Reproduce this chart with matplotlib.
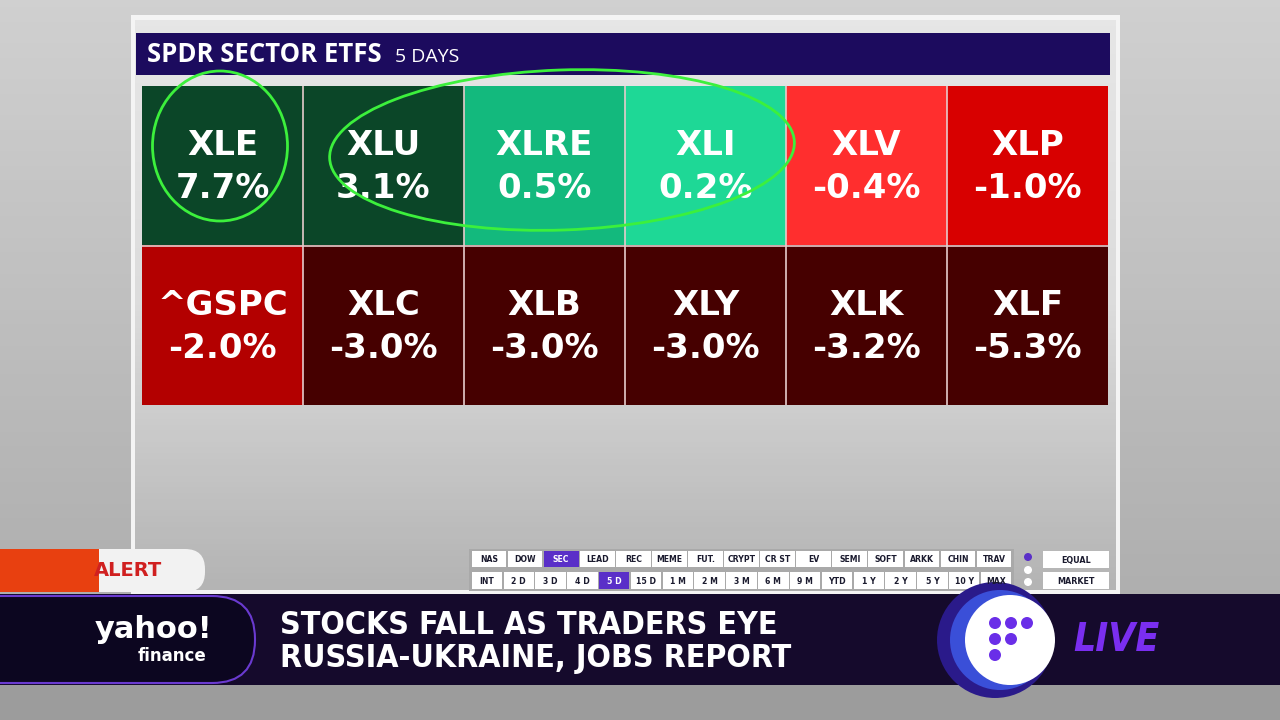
import numpy as np
import matplotlib
matplotlib.use("Agg")
import matplotlib.pyplot as plt
from matplotlib.colors import ListedColormap, BoundaryNorm, LinearSegmentedColormap
from matplotlib.patches import Rectangle, FancyBboxPatch, Ellipse, Circle

# ---------------- data ----------------
tickers = [["XLE", "XLU", "XLRE", "XLI", "XLV", "XLP"],
           ["^GSPC", "XLC", "XLB", "XLY", "XLK", "XLF"]]
returns = [[7.7, 3.1, 0.5, 0.2, -0.4, -1.0],
           [-2.0, -3.0, -3.0, -3.0, -3.2, -5.3]]
title = "SPDR SECTOR ETFS"
period = "5 DAYS"
group_buttons = ["NAS", "DOW", "SEC", "LEAD", "REC", "MEME", "FUT.", "CRYPT",
                 "CR ST", "EV", "SEMI", "SOFT", "ARKK", "CHIN", "TRAV"]
period_buttons = ["INT", "2 D", "3 D", "4 D", "5 D", "15 D", "1 M", "2 M", "3 M",
                  "6 M", "9 M", "YTD", "1 Y", "2 Y", "5 Y", "10 Y", "MAX"]
weight_buttons = ["EQUAL", "MARKET"]
active_group = "SEC"
active_period = "5 D"
headline = ["STOCKS FALL AS TRADERS EYE", "RUSSIA-UKRAINE, JOBS REPORT"]

bounds = [-10, -2.5, -1.5, -0.7, 0, 0.35, 1.0, 10]
colors = ["#460000", "#b30000", "#d80000", "#ff2e2e", "#1ed896", "#13b97d", "#0b4628"]

PURPLE = "#5a2fc8"
W, H = 1280, 720

fig = plt.figure(figsize=(12.8, 7.2), dpi=100)
ax = fig.add_axes([0, 0, 1, 1])
ax.set_xlim(0, W)
ax.set_ylim(H, 0)
ax.axis("off")

# background
bg = np.linspace(0, 1, 100).reshape(-1, 1)
ax.imshow(bg, extent=[0, W, H, 0], cmap=LinearSegmentedColormap.from_list("bg", ["#d0d0d0", "#a8a8a8"]),
          aspect="auto", zorder=0)

# panel
ax.add_patch(Rectangle((131, 15), 989, 580, facecolor="#f4f4f4", edgecolor="none", zorder=1))
ax.imshow(bg, extent=[135, 1116, 590, 20],
          cmap=LinearSegmentedColormap.from_list("pn", ["#e6e6e6", "#dcdcdc", "#b4b4b4"]),
          aspect="auto", zorder=1.5)

# header bar
ax.add_patch(Rectangle((136, 33), 974, 42, facecolor="#1c0b5e", edgecolor="none", zorder=2))
ax.text(147, 55, title, color="white", fontsize=18.5, fontweight="bold", family="Open Sans",
        va="center", ha="left", zorder=3)
ax.text(395, 57, period, color="white", fontsize=14, family="Open Sans",
        va="center", ha="left", zorder=3)

# heatmap
x0, x1, y0, y1 = 142, 1108, 86, 405
hm = fig.add_axes([x0 / W, 1 - y1 / H, (x1 - x0) / W, (y1 - y0) / H])
cmap = ListedColormap(colors)
norm = BoundaryNorm(bounds, cmap.N)
vals = np.array(returns)
nr, nc = vals.shape
hm.imshow(vals, cmap=cmap, norm=norm, aspect="auto", extent=[0, nc, nr, 0], interpolation="nearest")
hm.set_xlim(0, nc)
hm.set_ylim(nr, 0)
hm.axis("off")
for c in range(1, nc):
    hm.axvline(c, color="#e6cccc", lw=1.2)
for r in range(1, nr):
    hm.axhline(r, color="#e6cccc", lw=1.2)
for r in range(nr):
    for c in range(nc):
        hm.text(c + 0.5, r + 0.375, tickers[r][c], color="white", fontsize=24.5,
                fontweight="heavy", family="DejaVu Sans", ha="center", va="center")
        hm.text(c + 0.5, r + 0.645, f"{returns[r][c]:.1f}%", color="white", fontsize=24.5,
                fontweight="heavy", family="DejaVu Sans", ha="center", va="center")

# hand-drawn green annotations (overlay)
ov = fig.add_axes([0, 0, 1, 1])
ov.set_xlim(0, W)
ov.set_ylim(H, 0)
ov.axis("off")
ov.patch.set_alpha(0)
ov.add_patch(Ellipse((220, 146), 135, 150, angle=0, fill=False, edgecolor="#3cf03c", lw=2))
ov.add_patch(Ellipse((562, 150), 465, 160, angle=-2, fill=False, edgecolor="#3cf03c", lw=2))

# button rows
def draw_buttons(labels, y, h, xs, xe, active):
    n = len(labels)
    w = (xe - xs) / n
    for i, lab in enumerate(labels):
        on = lab == active
        ov.add_patch(Rectangle((xs + i * w + 0.7, y), w - 1.4, h,
                               facecolor=PURPLE if on else "white", edgecolor="none"))
        ov.text(xs + i * w + w / 2, y + h / 2 + 0.5, lab, fontsize=5.6, fontweight="bold",
                color="white" if on else "#1a1a2e", ha="center", va="center")

ov.add_patch(Rectangle((469, 549), 545, 42, facecolor="#a9a9a9", edgecolor="none"))
draw_buttons(group_buttons, 551, 16, 471, 1012, active_group)
draw_buttons(period_buttons, 572, 17, 471, 1012, active_period)
ov.add_patch(Circle((1028, 557), 4, facecolor=PURPLE, edgecolor="none"))
ov.add_patch(Circle((1028, 570), 4, facecolor="white", edgecolor="none"))
ov.add_patch(Circle((1028, 582), 4, facecolor="white", edgecolor="none"))
for i, lab in enumerate(weight_buttons):
    yy = 551 + i * 21
    ov.add_patch(Rectangle((1043, yy), 66, 17, facecolor="white", edgecolor="none"))
    ov.text(1076, yy + 9, lab, fontsize=5.8, fontweight="bold", color="#1a1a2e",
            ha="center", va="center")

# bottom banner
ov.add_patch(Rectangle((0, 594), W, 91, facecolor="#150a2c", edgecolor="none"))
ov.add_patch(Rectangle((0, 685), W, 35, facecolor="#9c9c9c", edgecolor="none"))
ov.add_patch(FancyBboxPatch((-60, 596), 315, 87, boxstyle="round,pad=0,rounding_size=43",
                            facecolor="#0c0620", edgecolor="#6a3ad0", lw=1.5))
ov.text(153, 630, "yahoo!", color="white", fontsize=22, fontweight="bold",
        ha="center", va="center", family="DejaVu Sans")
ov.text(172, 656, "finance", color="white", fontsize=12, fontweight="bold",
        ha="center", va="center", family="DejaVu Sans")
for i, line in enumerate(headline):
    ov.text(280, 625 + i * 33, line, color="white", fontsize=23, fontweight="bold",
            family="DejaVu Sans", fontstretch="condensed", ha="left", va="center")

# live badge
ov.add_patch(Circle((995, 640), 58, facecolor="#2a1a8a", edgecolor="none"))
ov.add_patch(Circle((1000, 640), 50, facecolor="#3a4fd8", edgecolor="none"))
ov.add_patch(Circle((1010, 640), 45, facecolor="white", edgecolor="none"))
for (dx, dy) in [(0, 0), (16, 0), (32, 0), (0, 16), (16, 16), (0, 32)]:
    ov.add_patch(Circle((995 + dx, 623 + dy), 6, facecolor="#6a2ee8", edgecolor="none"))
ov.text(1073, 640, "LIVE", color="#7a2ef0", fontsize=28, fontweight="bold",
        style="italic", family="DejaVu Sans", fontstretch="condensed", ha="left", va="center")

# alert tag
ov.add_patch(FancyBboxPatch((60, 549), 145, 43, boxstyle="round,pad=0,rounding_size=20",
                            facecolor="#f2f2f2", edgecolor="none"))
ov.add_patch(Rectangle((0, 549), 99, 43, facecolor="#e84010", edgecolor="none"))
ov.text(128, 571, "ALERT", color="#d02020", fontsize=14, fontweight="bold",
        ha="center", va="center")

fig.savefig("out.png", dpi=100)
